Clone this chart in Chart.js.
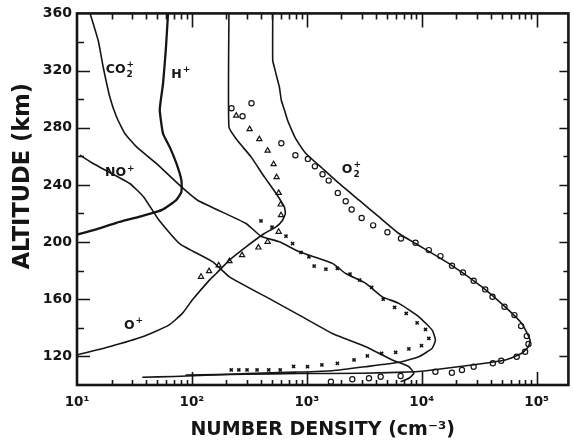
<!DOCTYPE html>
<html>
<head>
<meta charset="utf-8">
<script src="https://cdn.jsdelivr.net/npm/chart.js@4/dist/chart.umd.min.js"></script>
<style>
html,body{margin:0;padding:0;background:#fff;}
canvas{display:block;}
</style>
</head>
<body>
<canvas id="c" width="574" height="442"></canvas>
<script>
// ---- model curves (altitude km, number density cm^-3) ----
const altCO2p = [360, 341, 322.5, 301.5, 287.5, 276, 266.6, 255, 239.8, 229.3, 213, 204.1, 200.2, 193.2, 185.1, 178, 171.1, 161.7, 157.1, 147.7, 138.4, 131.5, 125.7, 119.8, 115.9, 112.8, 110, 109, 108, 107, 106, 105.4];
const denCO2p = [13.0, 15.3, 16.9, 19.3, 22.1, 26.1, 33, 49, 78, 112, 296, 399, 577, 859, 1670, 2180, 3260, 4540, 6330, 9440, 12330, 13160, 12330, 9440, 6330, 3260, 1670, 800, 300, 150, 70, 37];

const altHp = [360, 334, 311, 299.2, 292.2, 276, 266.6, 255, 243.3, 235.1, 229.3, 222.5, 218, 213.5, 208.7, 205.2];
const denHp = [62, 59.2, 56.1, 53.6, 52.5, 56, 64, 73.3, 81, 81, 73, 55, 36, 22, 14.4, 10];

const altNOp = [260.8, 255, 241, 231.6, 216, 199, 186.2, 175.7, 159.4, 148.9, 136.1, 126.8, 117.5, 112.8, 108.2, 104.7, 102.3];
const denNOp = [10.6, 13.8, 28.8, 38, 51, 78, 152, 212, 498, 859, 1670, 3260, 5530, 7730, 8550, 7730, 6550];

const altOp = [360, 280.5, 271.2, 259.6, 245.6, 234, 224.6, 220, 215.3, 210.6, 206, 196.7, 187.4, 178, 173.4, 159.4, 150.1, 141.9, 133.8, 126.8, 121];
const denOp = [210, 210, 248, 327, 427, 540, 637, 650, 615, 540, 427, 296, 212, 163, 142, 100.7, 82.6, 63, 37.2, 19.1, 10];

const altO2p = [360, 327, 322.5, 313.2, 308.5, 299.2, 292.2, 285.2, 278.2, 272.4, 262, 251.5, 241, 229.3, 217.6, 206, 199, 185.1, 168.7, 154.7, 143.1, 131.5, 126.8, 122.2, 117.5, 114, 110.5, 109.3, 108.2, 108, 107.5, 107];
const denO2p = [505, 505, 521, 557, 577, 600, 640, 680, 740, 800, 982, 1368, 1910, 2850, 4250, 6330, 8830, 17180, 33400, 53200, 74300, 87700, 84900, 74300, 53200, 27400, 12330, 8830, 3000, 859, 300, 88];

// ---- measured points ----
const altO2pObs = [297.1, 293.6, 288, 269.1, 260.8, 258.2, 253, 247.5, 243, 234.4, 228.6, 222.8, 216.8, 211.7, 206.9, 202.5, 199.5, 194.4, 190.2, 183.4, 178.8, 172.9, 166.9, 161.7, 154.7, 148.9, 141.2, 134.2, 128.7, 123.3, 119.8, 117, 115.2, 112.8, 110.5, 108.6, 109.3, 106.3, 105.8, 104.7, 104, 102.3];
const denO2pObs = [330, 221, 276, 600, 795, 1021, 1175, 1370, 1550, 1860, 2180, 2455, 3000, 3780, 5030, 6600, 8830, 11530, 14560, 18350, 22850, 28300, 35700, 41300, 52500, 64100, 73300, 82100, 84900, 79400, 67100, 49200, 41600, 28300, 22400, 18300, 13150, 6550, 4390, 3475, 2490, 1620];

const altOpObs = [288.5, 279, 272, 264, 254.5, 245.4, 234.4, 226.3, 218.8, 207.2, 200.2, 196.2, 190.9, 186.7, 183.7, 179.7, 175.7];
const denOpObs = [243, 318, 386, 456, 514, 546, 569, 592, 596, 569, 456, 379, 273, 212, 171, 141, 120];

const altCO2pObs = [214.8, 210.4, 204.1, 199, 192.8, 189.7, 183.2, 181, 181.6, 177.6, 173.4, 168.3, 160, 154.3, 150.1, 143.5, 138.9, 132.6, 127.5, 125.2, 122.9, 122.2, 120.3, 117.5, 115.2, 114, 112.8, 113, 110.5, 110.5, 110.5, 110.5, 110.5, 110.5];
const denCO2pObs = [399, 498, 659, 752, 889, 1043, 1159, 1466, 1845, 2377, 2884, 3664, 4624, 5808, 7328, 9120, 10790, 11530, 9954, 7727, 5929, 4477, 3365, 2576, 1845, 1352, 1014, 767, 587, 466, 369, 302, 256, 220];

// ---- axes ----
const xTickVals = [10, 100, 1000, 10000, 100000];
const xTickLabels = ['10\u00B9', '10\u00B2', '10\u00B3', '10\u2074', '10\u2075'];
const yTickVals = [120, 160, 200, 240, 280, 320, 360];
const xMin = 10, xMax = 189000, yMin = 100, yMax = 360;
const xTitle = 'NUMBER DENSITY (cm\u207B\u00B3)';
const yTitle = 'ALTITUDE (km)';

// ---- curve labels: [base, sub, sup, density, altitude] ----
const ionLabels = [
  ['CO', '2', '+', 17.8, 320.9],
  ['H', '', '+', 66.2, 317.0],
  ['NO', '', '+', 17.5, 248.2],
  ['O', '', '+', 25.6, 141.2],
  ['O', '2', '+', 2014, 250.6]
];

const pts = (alts, dens) => alts.map((a, i) => ({x: dens[i], y: a}));
const INK = '#151515';

function lineDs(alts, dens, w) {
  return {data: pts(alts, dens), showLine: true, pointRadius: 0, borderColor: INK, borderWidth: w, tension: 0.15, fill: false};
}
function ptDs(alts, dens, style, r, w) {
  return {data: pts(alts, dens), showLine: false, pointStyle: style, pointRadius: r, borderColor: INK, backgroundColor: 'rgba(0,0,0,0)', borderWidth: w};
}

const framePlugin = {
  id: 'frame',
  afterDatasetsDraw(chart) {
    const ctx = chart.ctx, a = chart.chartArea;
    const xs = chart.scales.x, ys = chart.scales.y;
    ctx.save();
    ctx.strokeStyle = INK;
    ctx.lineWidth = 1.6;
    ctx.beginPath();
    for (let v = yMin + 20; v < yMax; v += 20) {
      const y = Math.round(ys.getPixelForValue(v)) + 0.5;
      const major = v % 40 === 0;
      ctx.moveTo(a.left, y); ctx.lineTo(a.left + (major ? 13 : 7), y);
      ctx.moveTo(a.right, y); ctx.lineTo(a.right - (major ? 9 : 5), y);
    }
    for (let d = 10; d <= 100000; d *= 10) {
      for (let m = 1; m <= 9; m++) {
        const v = m * d;
        if (v <= xMin || v >= xMax) continue;
        const x = Math.round(xs.getPixelForValue(v)) + 0.5;
        const major = m === 1;
        ctx.moveTo(x, a.bottom); ctx.lineTo(x, a.bottom - (major ? 13 : 5));
        ctx.moveTo(x, a.top); ctx.lineTo(x, a.top + (major ? 14 : 6));
      }
    }
    ctx.stroke();
    ctx.lineWidth = 2.6;
    ctx.strokeRect(a.left, a.top, a.right - a.left, a.bottom - a.top);

    ctx.fillStyle = INK;
    ctx.textBaseline = 'middle';
    ctx.textAlign = 'left';
    for (const [base, sub, sup, dv, av] of ionLabels) {
      const x = xs.getPixelForValue(dv), y = ys.getPixelForValue(av);
      ctx.font = 'bold 12.5px "DejaVu Sans"';
      ctx.fillText(base, x, y);
      const w = ctx.measureText(base).width + 1;
      ctx.font = 'bold 9px "DejaVu Sans"';
      if (sup) ctx.fillText(sup, x + w, y - 5);
      if (sub) ctx.fillText(sub, x + w, y + 5);
    }

    ctx.save();
    ctx.translate(23, (a.top + a.bottom) / 2 - 23);
    ctx.rotate(-Math.PI / 2);
    ctx.textAlign = 'center';
    ctx.font = 'bold 22.5px "DejaVu Sans"';
    ctx.fillText(yTitle, 0, 0);
    ctx.restore();
    ctx.restore();
  }
};

new Chart(document.getElementById('c'), {
  type: 'scatter',
  data: {
    datasets: [
      lineDs(altCO2p, denCO2p, 1.6),
      lineDs(altHp, denHp, 2.3),
      lineDs(altNOp, denNOp, 1.6),
      lineDs(altOp, denOp, 1.6),
      lineDs(altO2p, denO2p, 1.6),
      ptDs(altO2pObs, denO2pObs, 'circle', 2.6, 1.2),
      ptDs(altOpObs, denOpObs, 'triangle', 3, 1.2),
      ptDs(altCO2pObs, denCO2pObs, 'crossRot', 2.2, 1.6)
    ]
  },
  options: {
    responsive: false,
    animation: false,
    devicePixelRatio: 1,
    layout: {padding: {top: 13, right: 4, left: 0, bottom: 0}},
    plugins: {legend: {display: false}, tooltip: {enabled: false}},
    scales: {
      x: {
        type: 'logarithmic', min: xMin, max: xMax, position: 'bottom',
        grid: {display: false, drawTicks: false},
        border: {display: false},
        afterBuildTicks: s => { s.ticks = xTickVals.map(v => ({value: v})); },
        afterFit: s => { s.height = 57; },
        ticks: {
          autoSkip: false, maxRotation: 0, padding: 9, color: INK,
          font: {family: '"DejaVu Sans"', weight: 'bold', size: 13.5},
          callback: (v, i) => xTickLabels[i]
        },
        title: {display: true, text: xTitle, color: INK,
          font: {family: '"DejaVu Sans"', weight: 'bold', size: 19}, padding: {top: 0, bottom: 1}}
      },
      y: {
        type: 'linear', min: yMin, max: yMax, position: 'left',
        grid: {display: false, drawTicks: false},
        border: {display: false},
        afterBuildTicks: s => { s.ticks = yTickVals.map(v => ({value: v})); },
        afterFit: s => { s.width = 77; },
        ticks: {
          autoSkip: false, padding: 5, color: INK,
          font: {family: '"DejaVu Sans"', weight: 'bold', size: 14},
          callback: v => String(v)
        },
        title: {display: false}
      }
    }
  },
  plugins: [framePlugin]
});
</script>
</body>
</html>
